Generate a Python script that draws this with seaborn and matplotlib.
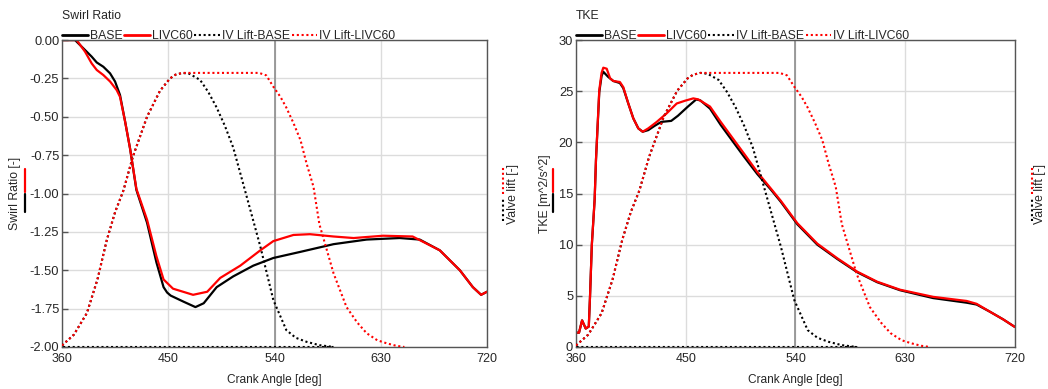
import numpy as np
import pandas as pd
import seaborn as sns
from matplotlib import pyplot as plt

# ---- data ----
swirl_ca_base = [360, 371, 379.5, 385.1, 389.4, 395, 400.7, 404.9, 409.1, 413.4, 417.6, 423, 432,
                 440, 446, 449, 452, 463, 473, 480, 491, 505, 522, 539, 562, 590, 618, 646, 663,
                 680, 697, 708, 715, 720]
swirl_base = [0, 0, -0.065, -0.108, -0.146, -0.174, -0.217, -0.27, -0.358, -0.53, -0.706, -0.977,
              -1.19, -1.45, -1.61, -1.645, -1.665, -1.705, -1.74, -1.715, -1.61, -1.54, -1.47,
              -1.42, -1.38, -1.33, -1.30, -1.29, -1.30, -1.37, -1.50, -1.61, -1.66, -1.64]

swirl_ca_livc = [360, 372.4, 379.5, 385.1, 389.4, 395, 400.7, 406.3, 409.1, 413.4, 417.6, 423, 432,
                 440, 446, 454, 471, 483, 494, 511, 528, 539, 556, 570, 590, 607, 632, 657, 680,
                 697, 708, 715, 720]
swirl_livc = [0, 0, -0.076, -0.152, -0.195, -0.228, -0.27, -0.326, -0.37, -0.53, -0.706, -0.97,
              -1.17, -1.41, -1.56, -1.62, -1.66, -1.64, -1.55, -1.47, -1.37, -1.31, -1.27,
              -1.265, -1.28, -1.29, -1.275, -1.28, -1.37, -1.50, -1.61, -1.66, -1.64]

tke_ca_base = [360, 362.5, 365, 368, 370.5, 371.5, 373, 375.3, 376.4, 379.1, 381, 382.4, 386.4,
               390.6, 396, 398.8, 402.9, 407, 411.1, 414.7, 419.3, 424.3, 429.9, 438.1, 443.6,
               451.8, 458.6, 462, 469.9, 478.7, 491, 497.8, 508.7, 519.7, 527.9, 541.5, 557.9,
               574.3, 590.7, 607, 625.7, 652.9, 680.3, 688.5, 699.4, 710.3, 720]
tke_base = [1.4, 1.4, 2.6, 1.8, 2.0, 4.9, 10.0, 14.4, 18.3, 24.9, 26.5, 26.9, 26.4,
            26.0, 25.8, 25.3, 23.8, 22.35, 21.37, 21.04, 21.2, 21.6, 22.0, 22.1, 22.6,
            23.5, 24.2, 24.1, 23.3, 21.7, 19.7, 18.6, 16.9, 15.4, 14.2, 12.0, 10.0,
            8.6, 7.3, 6.33, 5.55, 4.78, 4.33, 4.15, 3.45, 2.7, 1.95]

tke_ca_livc = [360, 362.5, 365, 368, 370.5, 371.5, 373, 375.3, 376.4, 379.1, 381, 382.4, 385.2,
               388, 390.6, 396, 398.8, 402.9, 407, 411.1, 414.7, 419.3, 426.2, 434.4, 442.6,
               449.4, 456.2, 460.3, 469.9, 478.7, 491, 497.8, 508.7, 519.7, 527.9, 541.5, 557.9,
               574.3, 590.7, 607, 625.7, 652.9, 680.3, 688.5, 699.4, 710.3, 720]
tke_livc = [1.4, 1.4, 2.6, 1.8, 2.0, 4.9, 10.0, 14.4, 18.3, 25.1, 26.8, 27.3, 27.2,
            26.26, 26.0, 25.9, 25.4, 23.8, 22.35, 21.37, 21.04, 21.37, 22.0, 22.84, 23.8,
            24.07, 24.3, 24.2, 23.5, 22.0, 20.0, 18.9, 17.1, 15.5, 14.3, 12.1, 10.1,
            8.67, 7.36, 6.38, 5.6, 4.9, 4.5, 4.22, 3.45, 2.7, 1.95]

# valve lift, the BASE trace comes back along zero (closed valve)
lift_ca_base = [360, 370, 381, 390, 398, 405, 412, 420, 432, 443, 451.5, 456, 462, 468, 477, 484,
                491, 498, 505, 515, 528, 539, 550, 558, 567, 578, 590, 360]
lift_base = [0.05, 0.4, 1.1, 2.2, 3.5, 4.4, 5.1, 6.2, 7.5, 8.35, 8.75, 8.87, 8.93, 8.9, 8.7,
             8.3, 7.8, 7.2, 6.5, 5.1, 3.27, 1.53, 0.55, 0.3, 0.17, 0.06, 0.0, 0.0]

lift_ca_livc = [360, 370, 381, 390, 398, 405, 412, 420, 432, 443, 451.5, 456, 462, 500, 527, 533,
                539, 545, 550, 556, 562, 567, 573, 578, 584, 590, 596, 601, 610, 618, 627, 635,
                643, 650]
lift_livc = [0.05, 0.4, 1.1, 2.2, 3.5, 4.4, 5.1, 6.2, 7.5, 8.35, 8.75, 8.87, 8.93, 8.93, 8.93,
             8.85, 8.48, 8.15, 7.8, 7.3, 6.74, 6.0, 5.22, 4.0, 3.2, 2.4, 1.8, 1.3, 0.8, 0.45,
             0.22, 0.12, 0.04, 0.0]

cases = ["BASE", "LIVC60"]
lift_names = ["IV Lift-BASE", "IV Lift-LIVC60"]
colors = {"BASE": "#000000", "LIVC60": "#ff0000",
          "IV Lift-BASE": "#000000", "IV Lift-LIVC60": "#ff0000"}


def long_df(xs, ys, names, col):
    parts = [pd.DataFrame({"ca": x, col: y, "case": n}) for x, y, n in zip(xs, ys, names)]
    return pd.concat(parts, ignore_index=True)


swirl_df = long_df([swirl_ca_base, swirl_ca_livc], [swirl_base, swirl_livc], cases, "val")
tke_df = long_df([tke_ca_base, tke_ca_livc], [tke_base, tke_livc], cases, "val")
lift_df = long_df([lift_ca_base, lift_ca_livc], [lift_base, lift_livc], lift_names, "lift")

sns.set_style("white")
plt.rcParams['font.family'] = ['Liberation Sans', 'DejaVu Sans']
plt.rcParams['axes.unicode_minus'] = False

fig = plt.figure(figsize=(10.48, 3.89), dpi=100)
ax_l = fig.add_axes([0.0592, 0.108, 0.4055, 0.789])
ax_r = fig.add_axes([0.5496, 0.108, 0.4189, 0.789])

dots = (0, (1, 1.3))
panels = [
    (ax_l, swirl_df, "Swirl Ratio", "Swirl Ratio [-]", (-2.0, 0.0), np.arange(-2.0, 0.01, 0.25),
     (-0.111, -0.087), (1.061, 1.038)),
    (ax_r, tke_df, "TKE", "TKE [m^2/s^2]", (0, 30), np.arange(0, 31, 5),
     (-0.071, -0.053), (1.057, 1.039)),
]

for ax, df, title, ylab, ylim, yticks, lpos, rpos in panels:
    ax.grid(True, color="#dcdcdc", lw=1)
    ax.set_axisbelow(True)
    ax.axvline(540, color="#8c8c8c", lw=1.2, zorder=1)
    sns.lineplot(data=df, x="ca", y="val", hue="case", palette=colors, hue_order=cases,
                 estimator=None, sort=False, lw=1.6, legend=False, ax=ax)
    ax.set_xlim(360, 720)
    ax.set_ylim(*ylim)
    ax.set_xticks([360, 450, 540, 630, 720])
    ax.set_yticks(yticks)
    if title == "Swirl Ratio":
        ax.set_yticklabels([f"{v:.2f}" for v in yticks])
    ax.tick_params(direction="in", length=4, width=1, color="#555555", labelsize=9.3,
                   right=True, pad=2)
    ax.tick_params(axis="x", pad=4, labelsize=9)
    for s in ax.spines.values():
        s.set_color("#555555")
        s.set_linewidth(1)
    ax.set_xlabel("Crank Angle [deg]", fontsize=8.6, labelpad=7)
    ax.set_ylabel("")

    ax2 = ax.twinx()
    sns.lineplot(data=lift_df, x="ca", y="lift", hue="case", palette=colors, hue_order=lift_names,
                 estimator=None, sort=False, lw=1.5, legend=False, ax=ax2)
    for ln in ax2.get_lines():
        ln.set_linestyle(dots)
    ax2.set_ylim(0, 10)
    ax2.set_yticks([])
    ax2.set_ylabel("")
    for s in ax2.spines.values():
        s.set_visible(False)

    # title and legend above the axes
    ax.text(0, 1.078, title, transform=ax.transAxes, fontsize=8.8, va="center", ha="left")
    handles = [plt.Line2D([], [], color="#000000", lw=2),
               plt.Line2D([], [], color="#ff0000", lw=2),
               plt.Line2D([], [], color="#000000", lw=1.5, ls=dots),
               plt.Line2D([], [], color="#ff0000", lw=1.5, ls=dots)]
    ax.legend(handles, cases + lift_names, ncol=4, loc="lower left",
              bbox_to_anchor=(-0.002, 0.99), frameon=False, fontsize=8.8,
              handlelength=2.1, handletextpad=0.15, columnspacing=0.15,
              borderpad=0.1, borderaxespad=0)

    # y labels with line samples
    ax.text(lpos[0], 0.5, ylab, transform=ax.transAxes, rotation=90, fontsize=8.8,
            ha="center", va="center")
    ax.plot([lpos[1]] * 2, [0.505, 0.58], transform=ax.transAxes, color="#ff0000",
            lw=1.6, clip_on=False)
    ax.plot([lpos[1]] * 2, [0.44, 0.5], transform=ax.transAxes, color="#000000",
            lw=1.6, clip_on=False)
    ax.text(rpos[0], 0.5, "Valve lift [-]", transform=ax.transAxes, rotation=90,
            fontsize=8.8, ha="center", va="center")
    ax.plot([rpos[1]] * 2, [0.5, 0.585], transform=ax.transAxes, color="#ff0000",
            lw=1.5, ls=dots, clip_on=False)
    ax.plot([rpos[1]] * 2, [0.41, 0.485], transform=ax.transAxes, color="#000000",
            lw=1.5, ls=dots, clip_on=False)

fig.savefig("out.png", dpi=100)
